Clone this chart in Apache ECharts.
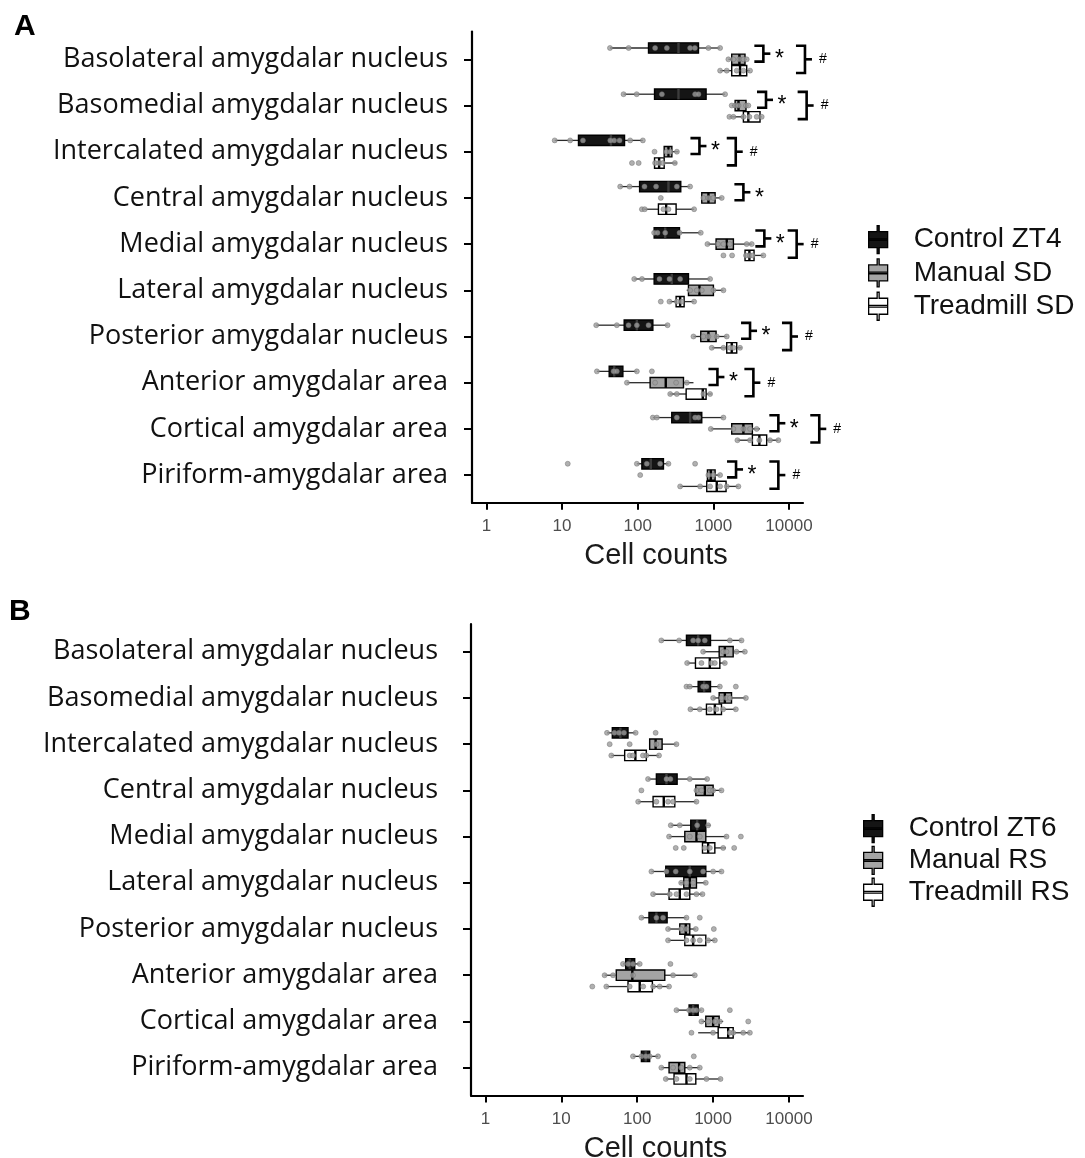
<!DOCTYPE html>
<html>
<head>
<meta charset="utf-8">
<script src="https://cdn.jsdelivr.net/npm/echarts@6/dist/echarts.min.js"></script>
<style>
  html, body { margin: 0; padding: 0; background: #ffffff; }
  #chart { width: 1085px; height: 1158px; }
</style>
</head>
<body>
<div id="chart"></div>
<script>
// ---- Regions (y categories, top to bottom) ----
const regionNames = [
  'Basolateral amygdalar nucleus',
  'Basomedial amygdalar nucleus',
  'Intercalated amygdalar nucleus',
  'Central amygdalar nucleus',
  'Medial amygdalar nucleus',
  'Lateral amygdalar nucleus',
  'Posterior amygdalar nucleus',
  'Anterior amygdalar area',
  'Cortical amygdalar area',
  'Piriform-amygdalar area'
];

// ---- Log axis ticks ----
const tickValues = [1, 10, 100, 1000, 10000];
const tickLabels = ['1', '10', '100', '1000', '10000'];

// ---- Groups ----
const groupsA = ['Control ZT4', 'Manual SD', 'Treadmill SD'];
const groupsB = ['Control ZT6', 'Manual RS', 'Treadmill RS'];

// ---- Panel A: box summaries [min, q1, median, q3, max] per region ----
const aControlBox = [
  [43, 139, 346, 636, 1228], [65, 167, 346, 802, 1429], [8.0, 16.5, 44.3, 67, 117],
  [58.7, 106, 255, 371, 493], [165, 165, 231, 357, 682], [90, 165, 282, 469, 906],
  [28.3, 66.3, 97.5, 158.6, 248], [28.9, 42, 49, 63.7, 97.5], [158.6, 282, 493, 703, 1359],
  [97.5, 113.6, 149, 219, 255]
];
const aManualBox = [
  [1580, 1750, 2210, 2620, 2760], [1750, 1940, 2150, 2700, 2900], [224, 224, 255, 283, 346],
  [703, 703, 861, 1055, 1291], [835, 1087, 1503, 1841, 3215], [445, 469, 655, 1002, 1359],
  [546, 682, 861, 1087, 1503], [72, 146, 235, 403, 546], [925, 1750, 2495, 3280, 4140],
  [835, 835, 925, 1055, 1228]
];
const aTreadmillBox = [
  [1228, 1750, 2254, 2761, 3055], [1630, 2495, 2900, 4140, 4357], [167, 167, 192, 224, 329],
  [113.6, 188, 238, 322, 557], [2624, 2624, 2995, 3451, 4581], [263, 322, 364, 411, 557],
  [953, 1503, 1750, 2037, 2372], [263, 437, 725, 802, 953], [2080, 3280, 4057, 5069, 7230],
  [364, 818, 1109, 1473, 2143]
];

// ---- Panel A: individual animals ----
const aControlPts = [
  [43, 76, 170, 243, 493, 570, 861, 1228], [65, 97, 209, 574, 636, 1429],
  [8.0, 12.8, 18.9, 43.4, 48.9, 57.5, 79.6, 117], [58.7, 78, 123, 175, 329, 493],
  [165, 183, 231, 357, 682], [90, 114, 194, 263, 364, 906], [28.3, 53, 75.7, 97.5, 139, 248],
  [28.9, 48, 53, 97.5, 154], [158.6, 179, 329, 574, 636, 1359], [11.9, 97.5, 132, 198, 255, 574]
];
const aManualPts = [
  [1580, 1840, 2200, 2500, 2760], [1750, 1940, 2150, 2700, 2900], [167, 240, 270, 330],
  [202, 739, 861, 1002, 1291], [835, 1150, 1359, 1650, 2761, 3215], [493, 604, 703, 1002, 1359],
  [546, 739, 861, 1109, 1503], [72, 170, 322, 446], [925, 1841, 2495, 3055, 3741],
  [108, 860, 1002, 1228]
];
const aTreadmillPts = [
  [1228, 1503, 2037, 2495, 3055], [1630, 1841, 2495, 2995, 3741, 4357], [84, 103, 170, 192, 215, 310],
  [113.6, 124, 219, 255, 557], [1359, 1770, 2700, 3000, 3300, 4581], [202, 263, 329, 380, 557],
  [953, 1359, 1664, 1841, 2254], [269, 329, 739, 906], [2080, 3055, 4057, 5610, 7230],
  [364, 668, 906, 1228, 1503, 2143]
];

// ---- Panel A: significance brackets (anchor in cell counts; null = none) ----
const aStarBracketAt = [4581, 4966, 655, 2495, 4721, null, 3055, 1132, 7230, 1995];
const aHashBracketAt = [16255, 17100, 1977, null, 12620, null, 10620, 3381, 25120, 7230];

// ---- Panel B: box summaries [min, q1, median, q3, max] ----
const bControlBox = [
  [208, 446, 636, 925, 2372], [446, 636, 763, 925, 1228], [40, 47, 60, 75.7, 95.5],
  [139, 179, 243, 336, 835], [277, 508, 617, 802, 925], [154, 238, 493, 802, 1291],
  [113.6, 143, 179, 248, 446], [65, 70.5, 79.6, 92.7, 108], [329, 483, 546, 636, 703],
  [88, 113.6, 129.5, 146, 188]
];
const bManualBox = [
  [739, 1203, 1429, 1841, 2624], [1002, 1203, 1429, 1750, 2706], [146, 146, 175, 213, 329],
  [592, 592, 778, 1002, 1291], [263, 424, 604, 802, 1503], [364, 411, 493, 604, 802],
  [255, 364, 437, 493, 592], [37.2, 53, 86.3, 231, 574], [703, 802, 1002, 1203, 1359],
  [208, 263, 357, 424, 668]
];
const bTreadmillBox = [
  [455, 586, 906, 1228, 1459], [503, 818, 1055, 1291, 1995], [45.6, 68.4, 94.6, 132, 194],
  [103, 162, 224, 313, 604], [725, 725, 861, 1055, 1473], [162, 263, 364, 493, 725],
  [255, 424, 546, 802, 1055], [39.2, 75.7, 108, 158.6, 263], [636, 1167, 1581, 1841, 3055],
  [238, 306, 446, 592, 1253]
];

// ---- Panel B: individual animals ----
const bControlPts = [
  [208, 357, 546, 636, 778, 1664, 2372], [446, 493, 739, 818, 1228, 1995],
  [40, 50, 57.5, 67, 95.5, 175], [139, 243, 274, 493, 835], [277, 364, 617, 861],
  [154, 243, 322, 493, 739, 1002, 1291], [113.6, 179, 219, 446, 668], [65, 76, 88, 108, 274],
  [329, 483, 546, 600, 703, 1664], [88, 113.6, 130, 146, 188, 557]
];
const bManualPts = [
  [739, 1359, 1503, 2037, 2624], [1002, 1291, 1503, 1664, 2706], [43.4, 79.6, 179, 329],
  [113.6, 604, 703, 906, 1002, 1291], [263, 493, 668, 1503, 2323], [380, 446, 546, 802],
  [255, 380, 446, 592, 1023], [37.2, 48, 88, 297, 574], [703, 861, 1055, 1228, 2905],
  [208, 297, 380, 493, 668]
];
const bTreadmillPts = [
  [455, 703, 953, 1055, 1429], [503, 668, 906, 1109, 1359, 1995], [45.6, 79.6, 88, 119, 132, 194],
  [103, 179, 255, 297, 604], [322, 411, 778, 906, 1359, 1897], [162, 269, 329, 446, 604, 725],
  [255, 446, 546, 668, 861, 1055], [25.6, 39.2, 79.6, 120, 162, 198, 263],
  [519, 1000, 1664, 1841, 2495, 3055], [238, 329, 493, 818, 1253]
];

// ---- Drawing helpers ----
const LOG = v => Math.log10(v);
const GROUP_OFFSET = [-0.245, 0, 0.245];   // dodge, in category units
const BOX_HALF = 0.112;                     // half box height, category units
const GROUP_FILL = ['#151515', '#a4a4a4', '#ffffff'];
const MEDIAN_COLOR = ['#3c3c3c', '#000000', '#000000'];
const ICON_PATH = 'path://M8.5,0H10.5V6H19V22H10.5V28H8.5V22H0V6H8.5Z M0,13.2H19V14.8H0Z';

function boxRenderer(offset, fill, medianColor) {
  return function (params, api) {
    const cat = api.value(0);
    const unit = api.size([0, 1])[1];
    const yc = api.coord([0, cat + offset])[1];
    const half = BOX_HALF * unit;
    const x = [1, 2, 3, 4, 5].map(d => api.coord([api.value(d), cat])[0]);
    const whisker = { stroke: '#2a2a2a', lineWidth: 1.3 };
    return {
      type: 'group',
      children: [
        { type: 'line', shape: { x1: x[0], y1: yc, x2: x[1], y2: yc }, style: whisker },
        { type: 'line', shape: { x1: x[3], y1: yc, x2: x[4], y2: yc }, style: whisker },
        { type: 'rect', shape: { x: x[1], y: yc - half, width: Math.max(x[3] - x[1], 1), height: 2 * half },
          style: { fill: fill, stroke: '#000', lineWidth: 1.4 } },
        { type: 'line', shape: { x1: x[2], y1: yc - half, x2: x[2], y2: yc + half },
          style: { stroke: medianColor, lineWidth: 2.4 } }
      ]
    };
  };
}

function bracketRenderer(fromOff, toOff, mark, markSize, markGap, markDrop) {
  return function (params, api) {
    const cat = api.value(0);
    const x = api.coord([api.value(1), cat])[0];
    const y1 = api.coord([0, cat + fromOff])[1];
    const y2 = api.coord([0, cat + toOff])[1];
    const ym = (y1 + y2) / 2;
    const pen = { stroke: '#000', lineWidth: 2.6, fill: null };
    return {
      type: 'group',
      children: [
        { type: 'polyline', shape: { points: [[x - 9, y1], [x, y1], [x, y2], [x - 9, y2]] }, style: pen },
        { type: 'line', shape: { x1: x, y1: ym, x2: x + 7, y2: ym }, style: pen },
        { type: 'text', style: { text: mark, x: x + markGap, y: ym + markDrop, align: 'center',
          verticalAlign: 'middle', fontSize: markSize, fontFamily: 'Liberation Sans', fill: '#000' } }
      ]
    };
  };
}

function panelSeries(idx, names, boxes, points) {
  const out = [];
  names.forEach((name, g) => {
    out.push({
      type: 'custom', name: name, xAxisIndex: idx, yAxisIndex: idx, z: 2,
      renderItem: boxRenderer(GROUP_OFFSET[g], GROUP_FILL[g], MEDIAN_COLOR[g]),
      encode: { x: [1, 2, 3, 4, 5], y: 0 },
      data: boxes[g].map((s, i) => [i].concat(s.map(LOG)))
    });
  });
  names.forEach((name, g) => {
    const data = [];
    points[g].forEach((vals, i) => vals.forEach(v => data.push([LOG(v), i + GROUP_OFFSET[g]])));
    out.push({
      type: 'scatter', name: name + ' animals', xAxisIndex: idx, yAxisIndex: idx, z: 3,
      symbolSize: 5, data: data,
      itemStyle: { color: '#9c9c9c', borderColor: '#6f6f6f', borderWidth: 0.6 }
    });
  });
  return out;
}

function bracketSeries(anchors, fromOff, toOff, mark, size, gap, drop) {
  const data = [];
  anchors.forEach((v, i) => { if (v != null) data.push([i, LOG(v)]); });
  return {
    type: 'custom', xAxisIndex: 0, yAxisIndex: 0, z: 4, clip: false,
    renderItem: bracketRenderer(fromOff, toOff, mark, size, gap, drop),
    encode: { x: 1, y: 0 }, data: data
  };
}

function xAxisFor(idx) {
  return {
    type: 'value', gridIndex: idx, min: -0.19, max: 4.185,
    splitLine: { show: false },
    axisLine: { onZero: false, lineStyle: { color: '#000', width: 2.2 } },
    axisTick: { customValues: tickValues.map(LOG), length: 7, lineStyle: { color: '#000', width: 2 } },
    axisLabel: {
      customValues: tickValues.map(LOG), margin: 15,
      formatter: v => tickLabels[Math.round(v)],
      fontFamily: 'Liberation Sans', fontSize: 17, color: '#4d4d4d'
    },
    name: 'Cell counts', nameLocation: 'middle', nameGap: 39,
    nameTextStyle: { fontFamily: 'Liberation Sans', fontSize: 29, color: '#1a1a1a', padding: [0, 0, 0, 37] }
  };
}

function yAxisFor(idx, margin) {
  const cats = regionNames.map((n, i) => i);
  return {
    type: 'value', gridIndex: idx, inverse: true, min: -0.6, max: 9.6,
    splitLine: { show: false },
    axisLine: { onZero: false, lineStyle: { color: '#000', width: 2.2 } },
    axisTick: { customValues: cats, length: 8, lineStyle: { color: '#000', width: 2 } },
    axisLabel: {
      customValues: cats, margin: margin,
      formatter: v => regionNames[Math.round(v)],
      fontFamily: 'Open Sans', fontSize: 27, color: '#111'
    }
  };
}

function legendFor(names, left, top, gap) {
  return {
    orient: 'vertical', left: left, top: top, itemWidth: 19, itemHeight: 28, itemGap: gap,
    selectedMode: false,
    textStyle: { fontFamily: 'Liberation Sans', fontSize: 28, lineHeight: 28, color: '#111', padding: [0, 0, 0, 21] },
    data: names.map((n, g) => ({
      name: n, icon: ICON_PATH,
      itemStyle: { color: GROUP_FILL[g], borderColor: '#000', borderWidth: 1.3 }
    }))
  };
}

const chart = echarts.init(document.getElementById('chart'), null, { renderer: 'canvas' });
chart.setOption({
  animation: false,
  backgroundColor: '#ffffff',
  title: [
    { text: 'A', left: 9, top: 7, textStyle: { fontFamily: 'Liberation Sans', fontWeight: 'bold', fontSize: 30, color: '#000' } },
    { text: 'B', left: 4, top: 592, textStyle: { fontFamily: 'Liberation Sans', fontWeight: 'bold', fontSize: 30, color: '#000' } }
  ],
  grid: [
    { left: 472, right: 282, top: 31.6, height: 471.2, outerBoundsMode: 'none', containLabel: false },
    { left: 471, right: 282, top: 624, height: 471.4, outerBoundsMode: 'none', containLabel: false }
  ],
  xAxis: [xAxisFor(0), xAxisFor(1)],
  yAxis: [yAxisFor(0, 24), yAxisFor(1, 33)],
  legend: [
    legendFor(groupsA, 863, 220, 4),
    legendFor(groupsB, 858, 809, 2.5)
  ],
  series: [].concat(
    panelSeries(0, groupsA, [aControlBox, aManualBox, aTreadmillBox], [aControlPts, aManualPts, aTreadmillPts]),
    panelSeries(1, groupsB, [bControlBox, bManualBox, bTreadmillBox], [bControlPts, bManualPts, bTreadmillPts]),
    [
      bracketSeries(aStarBracketAt, GROUP_OFFSET[0] - 0.05, GROUP_OFFSET[1] + 0.05, '*', 23, 16, 6),
      bracketSeries(aHashBracketAt, GROUP_OFFSET[0] - 0.05, GROUP_OFFSET[2] + 0.05, '#', 14, 18, 0)
    ]
  )
});
</script>
</body>
</html>
